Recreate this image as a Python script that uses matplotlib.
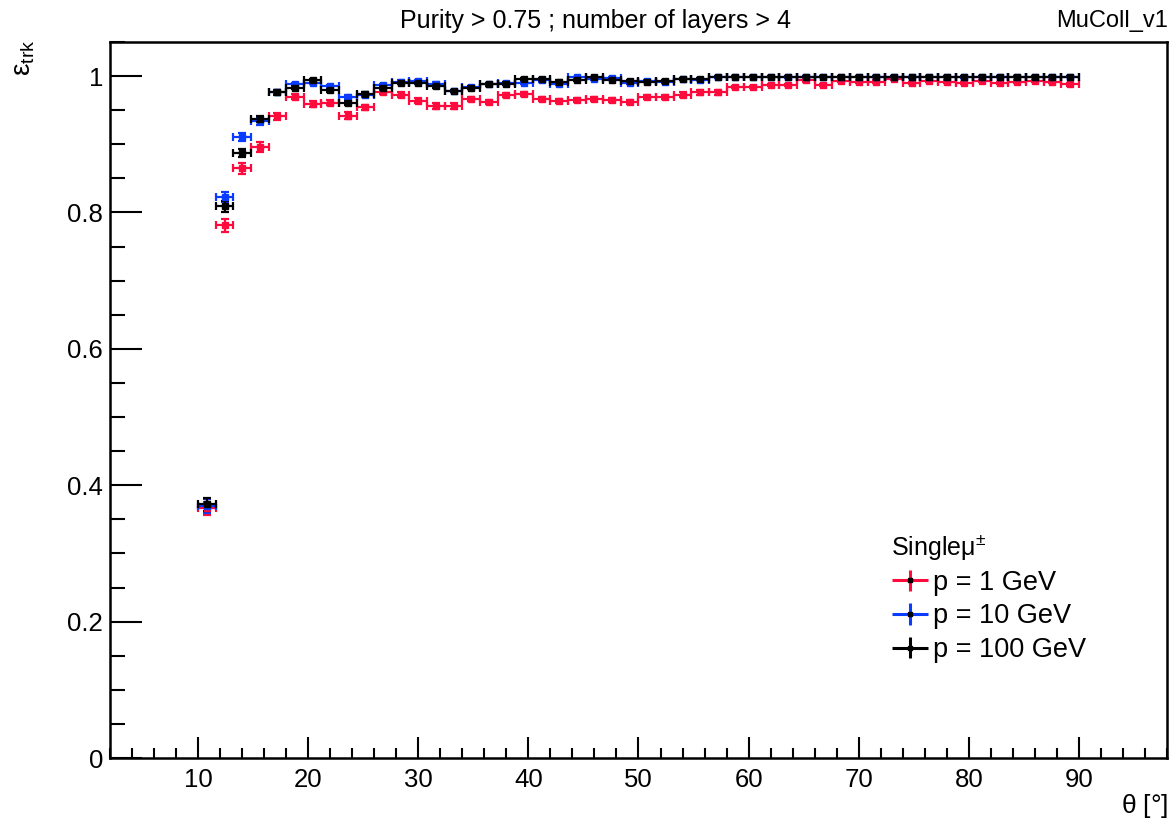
import numpy as np
import matplotlib
matplotlib.use('Agg')
import matplotlib.pyplot as plt
from matplotlib.ticker import MultipleLocator
from matplotlib.legend_handler import HandlerErrorbar

# ==============================================================================
# DATOS: eficiencia de tracking vs theta (50 bins de 10 a 90 grados)
# ==============================================================================
THETA_MIN, THETA_MAX, N_BINS = 10.0, 90.0, 50

eff_1gev = [0.366, 0.781, 0.865, 0.896, 0.941, 0.970, 0.959, 0.961, 0.942, 0.954,
            0.977, 0.973, 0.964, 0.956, 0.956, 0.966, 0.962, 0.972, 0.974, 0.966,
            0.964, 0.965, 0.966, 0.965, 0.962, 0.970, 0.970, 0.973, 0.976, 0.976,
            0.984, 0.984, 0.987, 0.987, 0.994, 0.987, 0.993, 0.992, 0.992, 0.996,
            0.990, 0.993, 0.992, 0.990, 0.993, 0.990, 0.992, 0.993, 0.992, 0.988]
err_1gev = [0.010, 0.009, 0.008, 0.007, 0.005, 0.004, 0.004, 0.004, 0.005, 0.004,
            0.003, 0.003, 0.004, 0.004, 0.004, 0.003, 0.003, 0.003, 0.003, 0.003,
            0.003, 0.003, 0.003, 0.003, 0.003, 0.003, 0.003, 0.003, 0.003, 0.003,
            0.002, 0.002, 0.002, 0.002, 0.002, 0.002, 0.002, 0.002, 0.002, 0.002,
            0.002, 0.002, 0.002, 0.002, 0.002, 0.002, 0.002, 0.002, 0.002, 0.002]

eff_10gev = [0.370, 0.823, 0.911, 0.934, 0.977, 0.988, 0.990, 0.985, 0.969, 0.973,
             0.987, 0.992, 0.993, 0.989, 0.978, 0.984, 0.988, 0.990, 0.990, 0.994,
             0.989, 0.998, 0.996, 0.997, 0.990, 0.993, 0.992, 0.996, 0.995, 0.998,
             0.999, 0.999, 0.999, 0.998, 0.999, 0.999, 0.998, 0.999, 0.999, 0.999,
             0.998, 0.999, 0.999, 0.998, 0.999, 0.999, 0.999, 0.999, 0.999, 0.999]
err_10gev = [0.010, 0.007, 0.006, 0.005, 0.003, 0.002, 0.002, 0.002, 0.003, 0.003,
             0.002, 0.002, 0.002, 0.002, 0.002, 0.002, 0.002, 0.002, 0.002, 0.002,
             0.002, 0.001, 0.001, 0.001, 0.002, 0.002, 0.002, 0.001, 0.001, 0.001,
             0.001, 0.001, 0.001, 0.001, 0.001, 0.001, 0.001, 0.001, 0.001, 0.001,
             0.001, 0.001, 0.001, 0.001, 0.001, 0.001, 0.001, 0.001, 0.001, 0.001]

eff_100gev = [0.372, 0.809, 0.887, 0.937, 0.976, 0.983, 0.994, 0.979, 0.961, 0.974,
              0.983, 0.990, 0.990, 0.985, 0.978, 0.983, 0.988, 0.989, 0.996, 0.996,
              0.992, 0.994, 0.998, 0.995, 0.993, 0.992, 0.993, 0.996, 0.996, 0.999,
              0.999, 0.999, 0.999, 0.999, 0.999, 0.999, 0.999, 0.999, 0.999, 0.999,
              0.998, 0.999, 0.999, 0.999, 0.999, 0.999, 0.999, 0.999, 0.999, 0.999]
err_100gev = [0.010, 0.008, 0.006, 0.004, 0.003, 0.002, 0.002, 0.002, 0.003, 0.002,
              0.002, 0.002, 0.002, 0.002, 0.002, 0.002, 0.002, 0.002, 0.001, 0.001,
              0.002, 0.001, 0.001, 0.001, 0.001, 0.001, 0.001, 0.001, 0.001, 0.001,
              0.001, 0.001, 0.001, 0.001, 0.001, 0.001, 0.001, 0.001, 0.001, 0.001,
              0.001, 0.001, 0.001, 0.001, 0.001, 0.001, 0.001, 0.001, 0.001, 0.001]

labels = ['p = 1 GeV', 'p = 10 GeV', 'p = 100 GeV']
colores = ['#ff0a3c', '#0a3cff', '#000000']

# ==============================================================================
# ESTILO (tipo ROOT)
# ==============================================================================
plt.rcParams['font.family'] = ['Liberation Sans', 'DejaVu Sans']
plt.rcParams['mathtext.fontset'] = 'custom'
plt.rcParams['mathtext.rm'] = 'Liberation Sans'
plt.rcParams['mathtext.it'] = 'Liberation Sans:italic'
plt.rcParams['mathtext.bf'] = 'Liberation Sans:bold'

edges = np.linspace(THETA_MIN, THETA_MAX, N_BINS + 1)
centros = 0.5 * (edges[:-1] + edges[1:])
half_w = 0.5 * (edges[1:] - edges[:-1])

fig = plt.figure(figsize=(11.73, 8.25), dpi=100)
ax = fig.add_axes([110 / 1173, 67 / 825, 1057 / 1173, 716 / 825])

series = [(eff_1gev, err_1gev), (eff_10gev, err_10gev), (eff_100gev, err_100gev)]
proxies = []
for (eff, err), lab, col in zip(series, labels, colores):
    ax.errorbar(centros, eff, xerr=half_w, yerr=err, fmt='s', ms=4.5,
                color=col, ecolor=col, elinewidth=1.6, capsize=3,
                capthick=1.6)
    # proxy sin "caps" para la leyenda (estilo ROOT)
    p = ax.errorbar([np.nan], [np.nan], xerr=[1], yerr=[1], fmt='s', ms=2.5,
                    mfc='k', mec='k', ecolor=col, elinewidth=2.2, capsize=0)
    proxies.append(p)

ax.set_xlim(2, 98)
ax.set_ylim(0, 1.05)
ax.xaxis.set_minor_locator(MultipleLocator(2))
ax.yaxis.set_minor_locator(MultipleLocator(0.05))
ax.set_xticks([10, 20, 30, 40, 50, 60, 70, 80, 90])
ax.set_xticklabels(['10', '20', '30', '40', '50', '60', '70', '80', '90'])
ax.set_yticks([0, 0.2, 0.4, 0.6, 0.8, 1.0])
ax.set_yticklabels(['0', '0.2', '0.4', '0.6', '0.8', '1'])

ax.tick_params(axis='x', which='major', direction='in', length=15, width=1.5,
               top=False, labelsize=18.5, pad=7)
ax.tick_params(axis='x', which='minor', direction='in', length=7.5, width=1.5, top=False)
ax.tick_params(axis='y', which='major', direction='in', length=23, width=1.5,
               right=False, labelsize=18.5, pad=5)
ax.tick_params(axis='y', which='minor', direction='in', length=11, width=1.5, right=False)
for s in ax.spines.values():
    s.set_linewidth(1.8)

# Textos
fig.text(595 / 1173, 1 - 21 / 825, 'Purity > 0.75 ; number of layers > 4',
         ha='center', va='center', fontsize=18)
fig.text(1168 / 1173, 1 - 21 / 825, 'MuColl_v1', ha='right', va='center', fontsize=17)
fig.text(24 / 1173, 1 - 40 / 825, r'$\mathrm{\varepsilon_{trk}}$', rotation=90,
         ha='center', va='top', fontsize=20)
fig.text(1168 / 1173, 1 - 806 / 825, r'$\mathrm{\theta}$ [°]', ha='right', va='center',
         fontsize=19)

# Leyenda
leg = ax.legend(proxies, labels, title=r'Single$\mathrm{\mu}^{\pm}$', loc='lower left',
                bbox_to_anchor=((891 - 110) / 1057, (758 - 663) / 716), frameon=False,
                fontsize=19.5, title_fontsize=18, handlelength=1.4, handletextpad=0.15,
                labelspacing=0.28, borderpad=0, borderaxespad=0, alignment='left',
                handler_map={type(proxies[0]): HandlerErrorbar(xerr_size=0.68, yerr_size=0.4)})

fig.savefig('out.png', dpi=100)
